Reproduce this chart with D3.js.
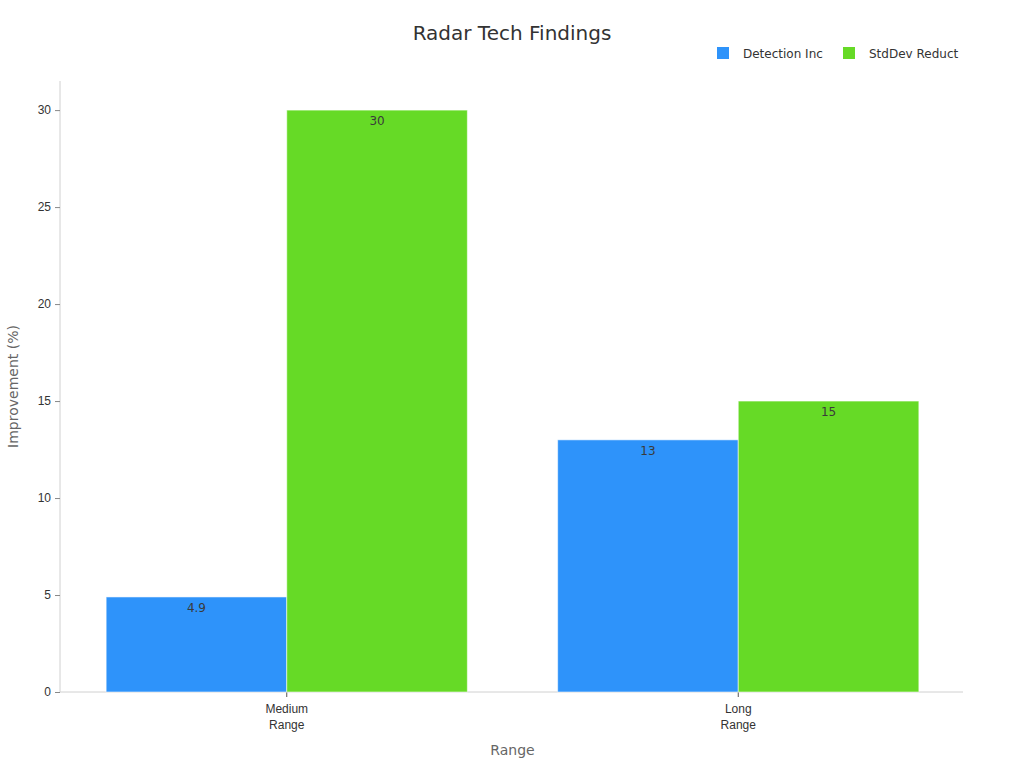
<!DOCTYPE html>
<html>
<head>
<meta charset="utf-8">
<script src="https://cdn.jsdelivr.net/npm/d3@7"></script>
<style>
  body { margin: 0; background: #fff; }
  svg { font-family: "DejaVu Sans", sans-serif; }
</style>
</head>
<body>
<svg id="grafico"></svg>
<script>
// dados do grafico
const categorias = [['Medium', 'Range'], ['Long', 'Range']]
const series = ['Detection Inc', 'StdDev Reduct']
const valoresDeteccao = [4.9, 13]
const valoresDesvio = [30, 15]
const ticksY = [0, 5, 10, 15, 20, 25, 30]
const cores = ['#2E93fA', '#66DA26']

const largura = 1024, altura = 768
const margens = {esquerda: 60, direita: 61, superior: 81, inferior: 76}
const larguraPlot = largura - margens.esquerda - margens.direita
const alturaPlot = altura - margens.superior - margens.inferior

const svg = d3.select('#grafico').attr('width', largura).attr('height', altura)

const nomes = categorias.map(c => c.join(' '))
const valores = [valoresDeteccao, valoresDesvio]

const fnX = d3.scaleBand().domain(nomes).range([1, larguraPlot + 1])
  .paddingInner(0.2).paddingOuter(0.1)
const fnSub = d3.scaleBand().domain(series).range([0, fnX.bandwidth()])
const fnY = d3.scaleLinear().domain([0, 31.5]).range([alturaPlot, 0])

const plot = svg.append('g')
  .attr('transform', 'translate(' + margens.esquerda + ',' + margens.superior + ')')

// eixo Y
const eixoY = plot.append('g').call(d3.axisLeft(fnY).tickValues(ticksY).tickSize(5).tickPadding(4))
eixoY.select('.domain').attr('stroke', '#d0d0d0').attr('d', 'M0,' + alturaPlot + 'V0')
eixoY.selectAll('.tick line').attr('stroke', '#888')
eixoY.selectAll('.tick text').attr('fill', '#333').style('font-size', '12px')

// eixo X
const eixoX = plot.append('g').attr('transform', 'translate(0,' + alturaPlot + ')')
  .call(d3.axisBottom(fnX).tickSize(5).tickSizeOuter(0).tickPadding(7))
eixoX.select('.domain').attr('stroke', '#d0d0d0').attr('d', 'M0,0H' + larguraPlot)
eixoX.selectAll('.tick line').attr('stroke', '#555')
eixoX.selectAll('.tick text').each(function (d, i) {
  const t = d3.select(this).text('').attr('fill', '#333').style('font-size', '12px')
  categorias[i].forEach((linha, j) => {
    t.append('tspan').attr('x', 0).attr('dy', j === 0 ? '0.71em' : '1.35em').text(linha)
  })
})

// barras
nomes.forEach((nome, i) => {
  const g = plot.append('g').attr('transform', 'translate(' + fnX(nome) + ',0)')
  series.forEach((s, k) => {
    const v = valores[k][i]
    g.append('rect')
      .attr('x', fnSub(s))
      .attr('y', fnY(v))
      .attr('width', fnSub.bandwidth())
      .attr('height', alturaPlot - fnY(v))
      .attr('fill', cores[k])
      .attr('stroke', 'rgba(255,255,255,0.55)')
      .attr('stroke-width', 1)
    g.append('text')
      .attr('x', fnSub(s) + fnSub.bandwidth() / 2)
      .attr('y', fnY(v) + 15)
      .attr('text-anchor', 'middle')
      .attr('fill', '#3a3a3a')
      .style('font-size', '12px')
      .text(v)
  })
})

// titulo
svg.append('text').attr('x', largura / 2).attr('y', 40)
  .attr('text-anchor', 'middle').attr('fill', '#333').style('font-size', '20px')
  .text('Radar Tech Findings')

// titulos dos eixos
svg.append('text').attr('x', margens.esquerda + larguraPlot / 2 + 1).attr('y', 755)
  .attr('text-anchor', 'middle').attr('fill', '#666').style('font-size', '14px')
  .text('Range')
svg.append('text')
  .attr('transform', 'translate(18,' + (margens.superior + alturaPlot / 2) + ') rotate(-90)')
  .attr('text-anchor', 'middle').attr('fill', '#666').style('font-size', '14px')
  .text('Improvement (%)')

// legenda
const legX = [717, 843]
series.forEach((s, k) => {
  const lg = svg.append('g').attr('transform', 'translate(' + legX[k] + ',47)')
  lg.append('rect').attr('width', 12).attr('height', 12).attr('fill', cores[k])
  lg.append('text').attr('x', 26).attr('y', 10.5).attr('fill', '#333')
    .style('font-size', '12px').text(s)
})
</script>
</body>
</html>
